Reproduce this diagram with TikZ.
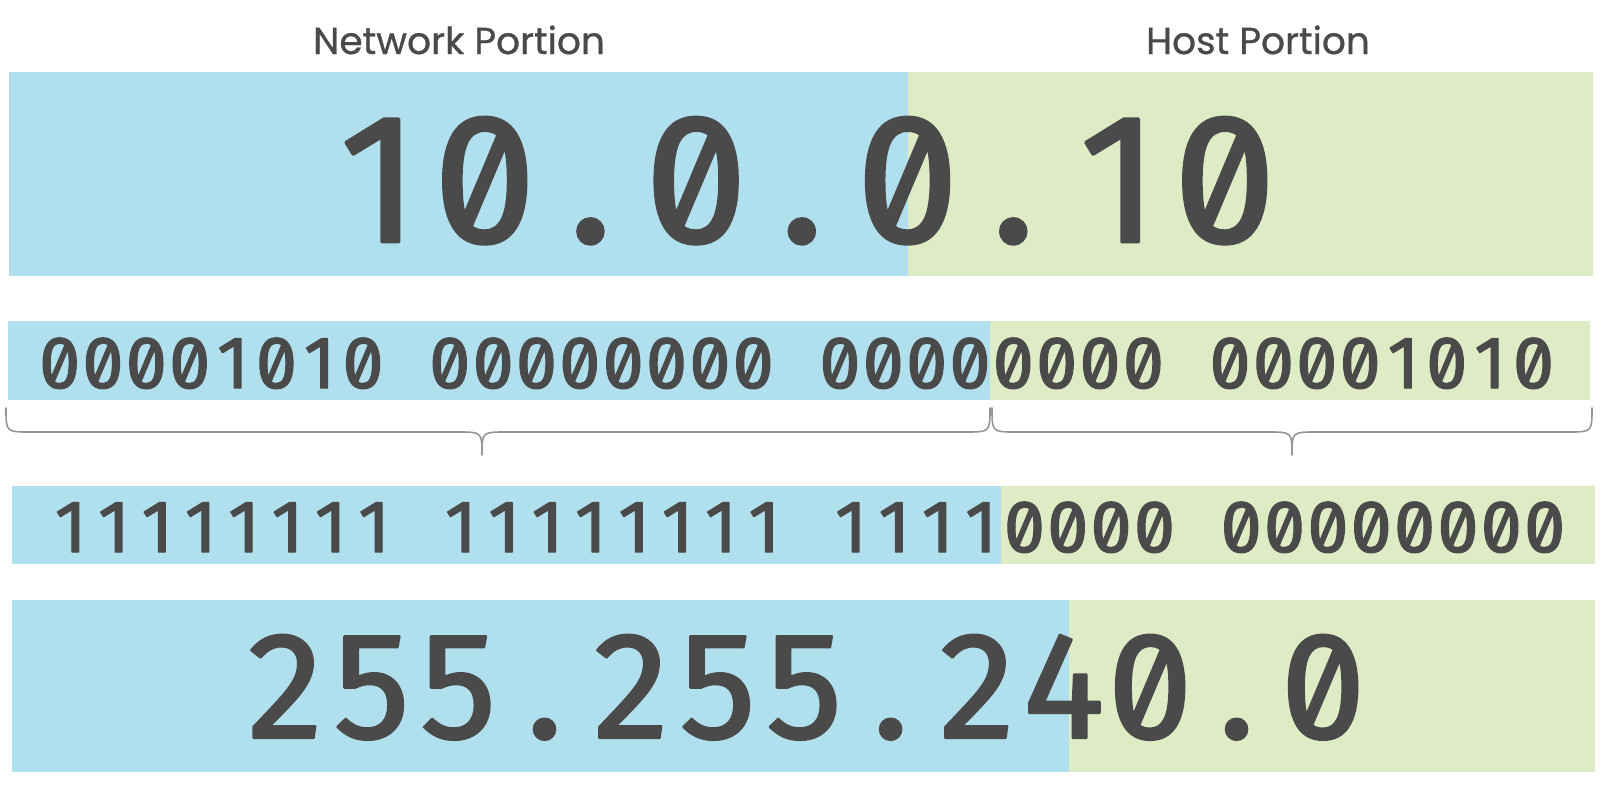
\documentclass[tikz,border=0pt]{standalone}
\usepackage{fontspec}
\setmainfont{Poppins}[FakeBold=0.8]
\newfontfamily\digitfont[Numbers=SlashedZero,FakeBold=1.6]{Fira Sans}
\definecolor{netblue}{RGB}{176,223,238}
\definecolor{hostgreen}{RGB}{222,235,196}
\definecolor{inkgray}{RGB}{74,74,74}
\definecolor{bracegray}{RGB}{150,150,150}
% one glyph per cell, ~ for an empty cell
\newlength\cellw
\def\monocells#1{\monocellsaux#1\relax}
\def\monocellsaux#1{\ifx#1\relax\else\makebox[\cellw]{#1}\expandafter\monocellsaux\fi}
\newcommand\digitrow[3]{\setlength\cellw{#1pt}\digitfont\fontsize{#2}{#2}\selectfont\monocells{#3}}
\begin{document}
\begin{tikzpicture}[x=1pt,y=-1pt,line join=round,line cap=round,
	txt/.style={inner sep=0pt,anchor=base,text=inkgray},
	row/.style={inner sep=0pt,anchor=base west,text=inkgray},
	brc/.style={draw=bracegray,line width=1.6pt}]
	\useasboundingbox (0,0) rectangle (1610,788);
	% bands: top/bottom/left/split/right
	\foreach \t/\b/\l/\s/\r in {72/276/9/908/1593,321/400/8/990/1590,486/564/12/1001/1595,600/772/12/1069/1595}{
		\fill[netblue] (\l,\t) rectangle (\s,\b);
		\fill[hostgreen] (\s,\t) rectangle (\r,\b);
	}
	\node[txt,font=\fontsize{37.5}{37.5}\selectfont] (net) at (459,54) {Network Portion};
	\node[txt,font=\fontsize{37.5}{37.5}\selectfont] (host) at (1258,54) {Host Portion};
	\node[row] (ip) at (379-52.85,242) {\digitrow{105.7}{184}{10.0.0.10}};
	\node[row] (ipbin) at (59.5-21.68,388) {\digitrow{43.35}{74}{00001010~00000000~00000000~00001010}};
	\node[row] (maskbin) at (70.6-21.68,552) {\digitrow{43.35}{74}{11111111~11111111~11110000~00000000}};
	\node[row] (mask) at (285-43.25,738) {\digitrow{86.5}{152}{255.255.240.0}};
	% braces
	\foreach \a/\m/\b in {6/482/990,992/1292/1592}{
		\draw[brc] (\a,408) .. controls (\a,432) .. (\a+24,432) -- (\m-24,432)
			.. controls (\m,432) .. (\m,455) .. controls (\m,432) .. (\m+24,432)
			-- (\b-24,432) .. controls (\b,432) .. (\b,408);
	}
\end{tikzpicture}
\end{document}
